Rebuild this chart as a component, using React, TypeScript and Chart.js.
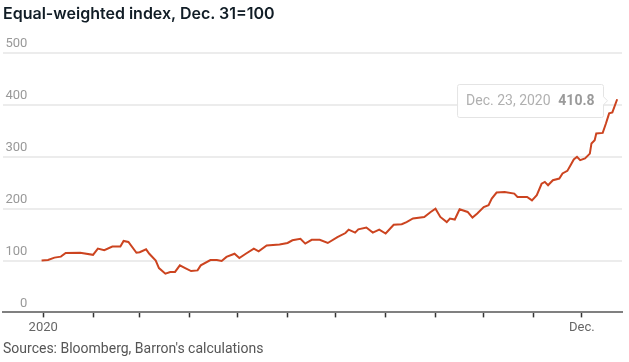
import React, { useEffect, useRef } from "react";
import { Chart, registerables } from "chart.js";

Chart.register(...registerables);

// Days since Jan 1, 2020 (Dec 31, 2019 = -1)
const DAYS = [
  -1, 3, 7, 11, 14, 23, 31, 34, 38, 43, 48, 50, 53, 58, 60, 64, 66, 70, 72, 76, 79, 82, 85, 88, 92, 96, 98, 104, 108, 111, 114,
  119, 122, 126, 131, 134, 139, 147, 152, 155, 160, 163, 167, 172, 177, 183, 188, 190, 194, 196, 201, 205, 209, 213, 218,
  223, 226, 230, 237, 241, 244, 247, 251, 253, 256, 259, 264, 267, 270, 274, 277, 279, 282, 287, 293, 295, 301, 304, 307,
  310, 312, 314, 317, 321, 323, 326, 328, 330, 332, 334, 337, 340, 341, 343, 344, 348, 350, 352, 354, 357,
];
const VALUES = [
  100, 101, 105.6, 107.5, 114.5, 115, 111, 123, 120, 127, 127, 137.7, 135.7, 115, 116, 121.6, 113, 100, 85.5, 74.7, 77.8, 78,
  90.7, 86, 79.7, 81, 90.7, 101, 101, 99, 107, 113, 104.8, 113, 123, 117.8, 129, 130.7, 133.8, 139, 142, 132.6, 140, 140,
  133.8, 145, 153, 159.6, 153.8, 160, 163.5, 153.8, 159.6, 152, 169, 170, 174, 181, 184, 193.6, 200, 184, 174, 181, 179,
  198.8, 193.6, 182.8, 190.5, 203, 206.6, 219.5, 231, 232, 229, 222.6, 222.6, 216, 226, 248, 251.5, 245, 254.8, 258, 267.8,
  272.8, 283.8, 294.8, 300, 293.4, 296.7, 306, 325.7, 332, 345, 346, 364, 383.6, 385.5, 410.8,
];

const X_TICK_DAYS = [0, 31, 60, 91, 121, 152, 182, 213, 244, 274, 305, 335];
const X_TICK_LABELS = ["2020", "", "", "", "", "", "", "", "", "", "", "Dec."];
const Y_TICKS = [0, 100, 200, 300, 400, 500];

const TITLE = "Equal-weighted index, Dec. 31=100";
const SOURCE = "Sources: Bloomberg, Barron's calculations";
const TIP_DATE = "Dec. 23, 2020";
const TIP_VALUE = "410.8";

const tipPlugin = {
  id: "lastTip",
  afterDatasetsDraw(chart: any) {
    const meta = chart.getDatasetMeta(0);
    const pt = meta.data[meta.data.length - 1];
    if (!pt) return;
    const ctx = chart.ctx;
    ctx.save();
    const f1 = "14px Roboto";
    const f2 = "bold 14px Roboto";
    ctx.font = f1;
    const w1 = ctx.measureText(TIP_DATE).width;
    ctx.font = f2;
    const w2 = ctx.measureText(TIP_VALUE).width;
    const padL = 8.5;
    const padR = 9;
    const gap = 7.7;
    const h = 33;
    const w = padL + w1 + gap + w2 + padR;
    const right = Math.round(pt.x - 14) + 0.5;
    const left = right - w;
    const cy = pt.y + 1.5;
    const top = Math.round(cy - h / 2) + 0.5;
    const bottom = top + h;
    const r = 2;
    ctx.beginPath();
    ctx.moveTo(left + r, top);
    ctx.lineTo(right - r, top);
    ctx.quadraticCurveTo(right, top, right, top + r);
    ctx.lineTo(right, cy - 4);
    ctx.lineTo(right + 4, cy);
    ctx.lineTo(right, cy + 4);
    ctx.lineTo(right, bottom - r);
    ctx.quadraticCurveTo(right, bottom, right - r, bottom);
    ctx.lineTo(left + r, bottom);
    ctx.quadraticCurveTo(left, bottom, left, bottom - r);
    ctx.lineTo(left, top + r);
    ctx.quadraticCurveTo(left, top, left + r, top);
    ctx.closePath();
    ctx.fillStyle = "rgba(255,255,255,0.95)";
    ctx.fill();
    ctx.strokeStyle = "#e4e4e4";
    ctx.lineWidth = 1;
    ctx.stroke();
    ctx.textBaseline = "middle";
    ctx.textAlign = "left";
    ctx.font = f1;
    ctx.fillStyle = "#b0b0b0";
    ctx.fillText(TIP_DATE, left + padL, cy + 0.5);
    ctx.font = f2;
    ctx.fillStyle = "#9a9a9a";
    ctx.fillText(TIP_VALUE, left + padL + w1 + gap, cy + 0.5);
    ctx.restore();
  },
};

export default function App() {
  const ref = useRef<HTMLCanvasElement | null>(null);

  useEffect(() => {
    if (!ref.current) return;
    const data = DAYS.map((d, i) => ({ x: d, y: VALUES[i] }));
    const chart = new Chart(ref.current, {
      type: "line",
      data: {
        datasets: [
          {
            data,
            borderColor: "#cc4420",
            borderWidth: 2,
            pointRadius: 0,
            tension: 0,
            fill: false,
          },
        ],
      },
      options: {
        animation: false,
        responsive: false,
        maintainAspectRatio: false,
        layout: { padding: { top: 53, left: 3, right: 7, bottom: 23 } },
        plugins: {
          legend: { display: false },
          tooltip: { enabled: false },
          title: { display: false },
        },
        scales: {
          x: {
            type: "linear",
            min: -25,
            max: 360,
            afterBuildTicks: (axis: any) => {
              axis.ticks = X_TICK_DAYS.map((v) => ({ value: v }));
            },
            ticks: {
              autoSkip: false,
              maxRotation: 0,
              padding: 3,
              color: "#666",
              font: { family: "Roboto", size: 13 },
              callback: (v: any) => {
                const i = X_TICK_DAYS.indexOf(Number(v));
                return i >= 0 ? X_TICK_LABELS[i] : "";
              },
            },
            grid: {
              drawOnChartArea: false,
              drawTicks: true,
              tickLength: 5,
              tickColor: "#333",
              tickWidth: 1.5,
            },
            border: { display: true, color: "#808080", width: 2 },
          },
          y: {
            min: 0,
            max: 500,
            afterBuildTicks: (axis: any) => {
              axis.ticks = Y_TICKS.map((v) => ({ value: v }));
            },
            afterFit: (axis: any) => {
              axis.width = 0;
            },
            ticks: {
              mirror: true,
              crossAlign: "far",
              padding: 2.5,
              labelOffset: -9,
              color: "#999",
              font: { family: "Roboto", size: 13 },
            },
            grid: {
              drawTicks: false,
              color: "#ececec",
              lineWidth: 2,
            },
            border: { display: false },
          },
        },
      },
      plugins: [tipPlugin],
    });
    return () => chart.destroy();
  }, []);

  return (
    <div style={{ position: "absolute", left: 0, top: 0, width: 629, height: 362, background: "#fff" }}>
      <canvas ref={ref} width={629} height={362} style={{ position: "absolute", left: 0, top: 0 }} />
      <div
        style={{
          position: "absolute",
          left: 3,
          top: 3,
          fontFamily: "Inter",
          fontWeight: 600,
          fontSize: 16,
          color: "#111d26",
          whiteSpace: "nowrap",
        }}
      >
        {TITLE}
      </div>
      <div
        style={{
          position: "absolute",
          left: 3,
          top: 340,
          fontFamily: "Roboto",
          fontSize: 14,
          color: "#555",
          whiteSpace: "nowrap",
        }}
      >
        {SOURCE}
      </div>
    </div>
  );
}
